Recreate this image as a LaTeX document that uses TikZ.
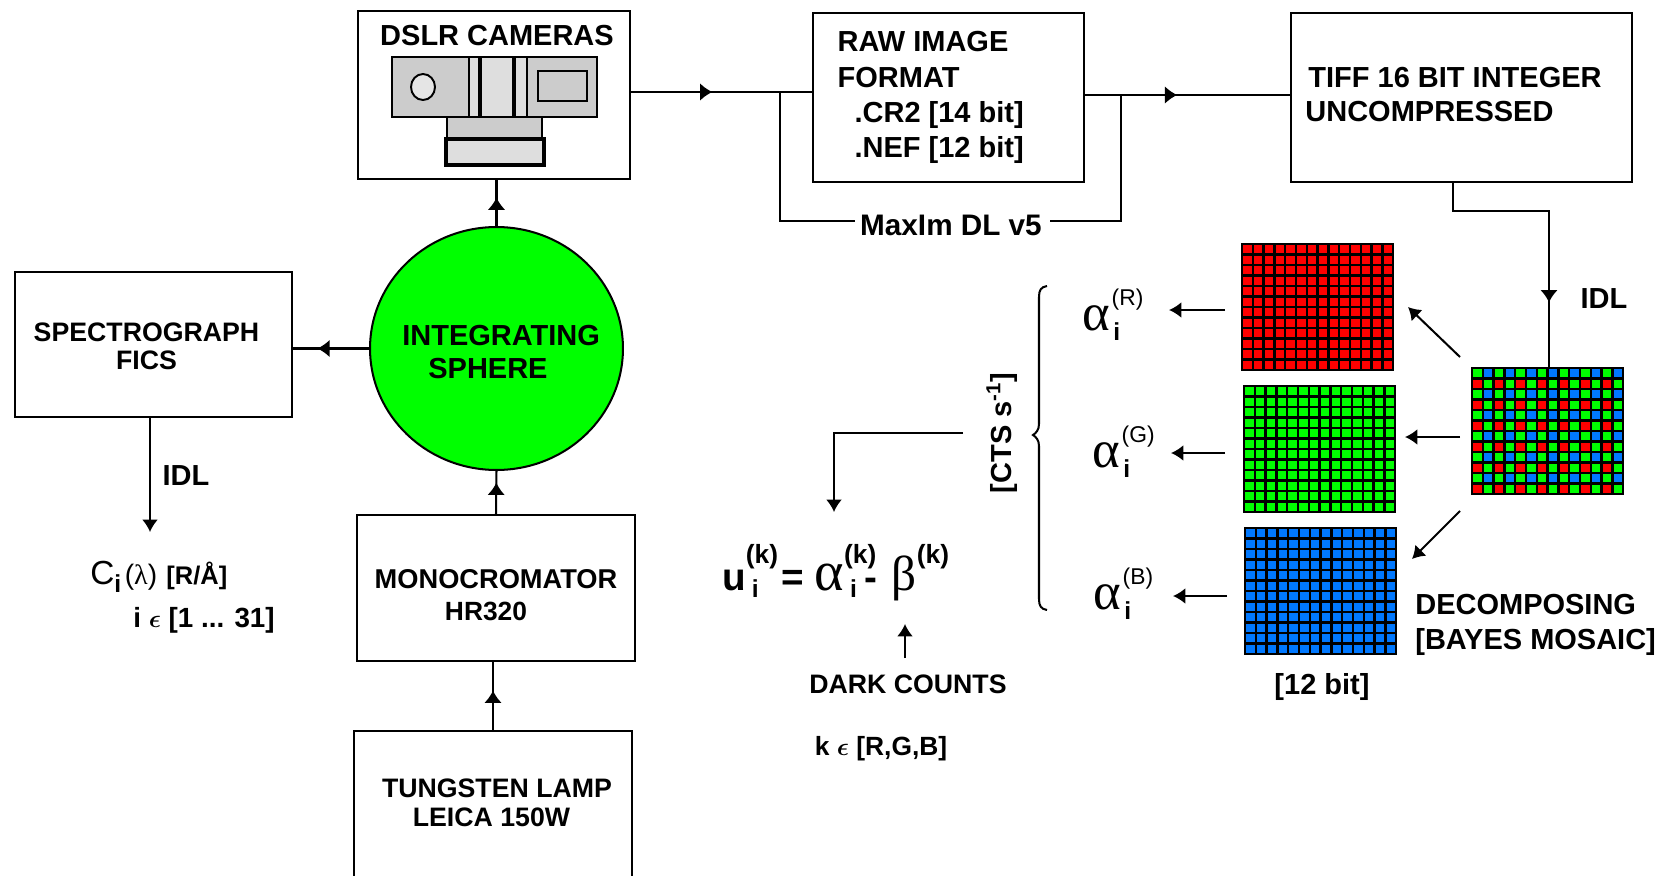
\documentclass[tikz,border=0pt]{standalone}
\usepackage{fontspec}
\setmainfont{Liberation Sans}
\newfontfamily\greekfont{Liberation Serif}
\usetikzlibrary{arrows.meta, calc, decorations.markings, shapes.geometric}
\definecolor{redpix}{RGB}{255, 0, 0}
\definecolor{greenpix}{RGB}{0, 255, 0}
\definecolor{bluepix}{RGB}{0, 120, 255}
\newcommand{\size}[2]{\fontsize{#1}{#2}\selectfont}
\newcommand{\subsup}[2]{\rlap{\raisebox{15pt}{\size{15}{15}\bfseries #1}}\hspace{3.4pt}\raisebox{-4.5pt}{\size{14}{14}\bfseries #2}}
\newcommand{\alphalabel}[1]{{\greekfont\size{30}{30}α}\hspace{1pt}\rlap{\raisebox{13.7pt}{\size{13}{13}\mdseries (#1)}}\hspace{1pt}\raisebox{-6pt}{\size{14}{14}\bfseries i}}
\newcommand{\pixelgrid}[5]{%
  \foreach \row in {0, ..., 11} {
    \foreach \col in {0, ..., 13} {
      \pgfmathtruncatemacro{\pixcolor}{mod(\row, 2)*2 + mod(\col, 2)}
      \ifcase\pixcolor\relax \def\thiscolor{#2}\or \def\thiscolor{#3}\or \def\thiscolor{#4}\or \def\thiscolor{#5}\fi
      \fill[\thiscolor] ($(#1.north west) + (\col*10.8 + 2.5, \row*10.5 + 2.5)$) rectangle +(8.4, 8);
    }
  }
}
\tikzset{
  box/.style={draw, line width=1.15pt, align=left},
  lbl/.style={font=\size{16.5}{20}\bfseries, inner sep=0pt, align=left},
  grid/.style={fill=black, inner sep=0pt, minimum width=3.06cm, minimum height=2.56cm},
  line/.style={line width=1.15pt},
  arw/.style={line, -{Latex[length=7pt, width=9pt]}},
  midtip/.style={line, postaction={decorate},
    decoration={markings, mark=at position #1 with {\arrow{Latex[length=7pt, width=10pt]}}}},
  part/.style={draw, line width=1.1pt, fill=#1}
}
\begin{document}
\begin{tikzpicture}[x=0.02cm, y=-0.02cm]
  \clip (0, 0) rectangle (1658, 876);

  % boxes
  \node[box, minimum width=5.44cm, minimum height=3.36cm] (dslr) at (494, 95) {};
  \node[box, minimum width=5.42cm, minimum height=3.38cm, font=\size{16.5}{20}\bfseries] (raw) at (948.5, 97.5)
    {RAW IMAGE\hspace*{1.02cm}\\FORMAT\\\hspace*{.34cm}.CR2 [14 bit]\\\hspace*{.34cm}.NEF [12 bit]};
  \node[box, minimum width=6.82cm, minimum height=3.38cm, font=\size{16.5}{19.3}\bfseries] (tiff) at (1461.5, 97.5)
    {\hspace*{.06cm}TIFF 16 BIT INTEGER\hspace*{.32cm}\\UNCOMPRESSED\rule[-4pt]{0pt}{4pt}};
  \node[box, minimum width=5.54cm, minimum height=2.9cm, font=\size{15.2}{16}\bfseries, align=center] (spectro) at (153.5, 344.5)
    {\rule{0pt}{13pt}SPECTROGRAPH\hspace*{.28cm}\\FICS\hspace*{.28cm}};
  \node[box, ellipse, fill=greenpix, inner sep=0pt, minimum width=5.06cm, minimum height=4.86cm] (sphere) at (496.5, 348.5) {};
  \node[box, minimum width=5.56cm, minimum height=2.92cm, font=\size{15.5}{18}\bfseries, align=center] (mono) at (496, 588)
    {\rule{0pt}{19pt}MONOCROMATOR\\{\size{15}{18}HR320}\hspace*{.4cm}};
  \node[box, minimum width=5.56cm, minimum height=3cm, font=\size{15.2}{16.2}\bfseries, align=center] (lamp) at (493, 806)
    {\hspace*{.16cm}TUNGSTEN LAMP\\LEICA 150W\hspace*{.06cm}\rule[-4pt]{0pt}{4pt}};

  % camera
  \node[lbl] (dslrname) at (497, 36) {DSLR CAMERAS};
  \draw[part=black!20] (392, 57) rectangle (597, 117);
  \draw[part=black!13] (469, 57) rectangle (527, 117);
  \draw[line width=1.9pt] (480, 57) -- (480, 117) (514, 57) -- (514, 117);
  \draw[part=black!10] (423, 87) ellipse (12 and 13);
  \draw[part=black!20, line width=1.3pt] (538, 71) rectangle (587, 101);
  \draw[part=black!20] (447, 117) rectangle (542, 139);
  \draw[part=black!13, line width=1.9pt] (446, 139) rectangle (544, 165);

  % sensor grids
  \node[grid] (redgrid) at (1317.5, 307) {};
  \node[grid] (greengrid) at (1319.5, 449) {};
  \node[grid] (bluegrid) at (1320.5, 591) {};
  \node[grid] (mosaic) at (1547.5, 431) {};
  \pixelgrid{redgrid}{redpix}{redpix}{redpix}{redpix}
  \pixelgrid{greengrid}{greenpix}{greenpix}{greenpix}{greenpix}
  \pixelgrid{bluegrid}{bluepix}{bluepix}{bluepix}{bluepix}
  \pixelgrid{mosaic}{greenpix}{bluepix}{redpix}{greenpix}

  % text
  \node[lbl, anchor=west, font=\size{16.5}{19.3}\bfseries] (spherename) at (402, 352) {INTEGRATING\\\hspace*{.52cm}SPHERE};
  \node[lbl] (idlspec) at (186, 476) {IDL};
  \node[lbl, anchor=base west] (cilabel) at (90, 584)
    {\size{19}{19}\mdseries C\raisebox{-.25em}{\size{14}{14}\bfseries i}\hspace{2pt}{\size{16}{16}(\greekfont λ\sffamily\rmfamily)} \size{14.5}{15}\bfseries [R/Å]};
  \node[lbl, anchor=base west, font=\size{15.8}{16}\bfseries] (ciindex) at (133, 627) {i {\boldmath$\epsilon$} [1 ... 31]};
  \node[lbl] (maxim) at (951, 225) {\size{16.9}{20}MaxIm DL v5};
  \node[lbl] (idlmosaic) at (1604, 299) {IDL};
  \node[lbl, anchor=west] (decomp) at (1415, 625) {DECOMPOSING\\{[BAYES MOSAIC]}};
  \node[lbl] (bits) at (1322, 687) {[12 bit]};
  \node[lbl, font=\size{15.2}{16}\bfseries] (dark) at (908, 684) {DARK COUNTS};
  \node[lbl, font=\size{15}{16}\bfseries] (kset) at (881, 749) {k {\boldmath$\epsilon$} [R,G,B]};
  \node[lbl, rotate=90] (cts) at (1002, 433) {[CTS s\textsuperscript{-1}]};
  \node[inner sep=0pt, anchor=base west] (alphar) at (1082, 330) {\alphalabel{R}};
  \node[inner sep=0pt, anchor=base west] (alphag) at (1092, 467) {\alphalabel{G}};
  \node[inner sep=0pt, anchor=base west] (alphab) at (1093, 609) {\alphalabel{B}};
  \node[inner sep=0pt, anchor=base west, font=\size{22}{22}\bfseries] (eq) at (722, 590)
    {u\subsup{(k)}{i}\hspace{13pt}=\hspace{6pt}{\greekfont\size{32}{32}\mdseries α}\subsup{(k)}{i}\hspace{4pt}-\hspace{8.5pt}{\greekfont\size{28}{28}\mdseries β}\raisebox{15pt}{\size{15}{15}(k)}};

  % connectors
  \coordinate (idlend) at (150, 532);
  \coordinate (darktip) at (905, 624);
  \coordinate (darkstart) at (905, 658);
  \draw[midtip=.62] (sphere.north) -- (sphere.north |- dslr.south);
  \draw[midtip=.73] (mono.north) -- (sphere.south);
  \draw[midtip=.58] (lamp.north) -- (lamp.north |- mono.south);
  \draw[midtip=.68] (sphere.west) -- (sphere.west -| spectro.east);
  \draw[arw] (spectro.south -| idlend) -- (idlend);
  \draw[midtip=.45] (dslr.east |- 0, 92) -- (raw.west |- 0, 92);
  \draw[line] (780, 92) |- ($(maxim.west) + (-5, -4)$);
  \draw[line] ($(maxim.east) + (8, -4)$) -| (1121, 95);
  \draw[midtip=.45] (raw.east |- 0, 95) -- (tiff.west |- 0, 95);
  \draw[midtip=.77] (tiff.south -| 1453, 0) |- (1549, 211) -- (mosaic.north -| 1549, 0);
  \draw[arw] (1460, 357) -- (1408, 307);
  \draw[arw] (1460, 437) -- (1405, 437);
  \draw[arw] (1460, 511) -- (1412, 559);
  \draw[arw] (1225, 310) -- (1169, 310);
  \draw[arw] (1225, 453) -- (1171, 453);
  \draw[arw] (1227, 596) -- (1173, 596);
  \draw[arw, shorten <=.46cm] (cts.north) -| (834, 512);
  \draw[arw] (darkstart) -- (darktip);
  \draw[line] (1047, 286) .. controls (1041, 287) and (1039, 290) .. (1039, 297) -- (1039, 424)
    .. controls (1039, 430) and (1036, 433) .. (1033, 435) .. controls (1036, 437) and (1039, 440) .. (1039, 446)
    -- (1039, 599) .. controls (1039, 606) and (1041, 609) .. (1047, 610);
\end{tikzpicture}
\end{document}
